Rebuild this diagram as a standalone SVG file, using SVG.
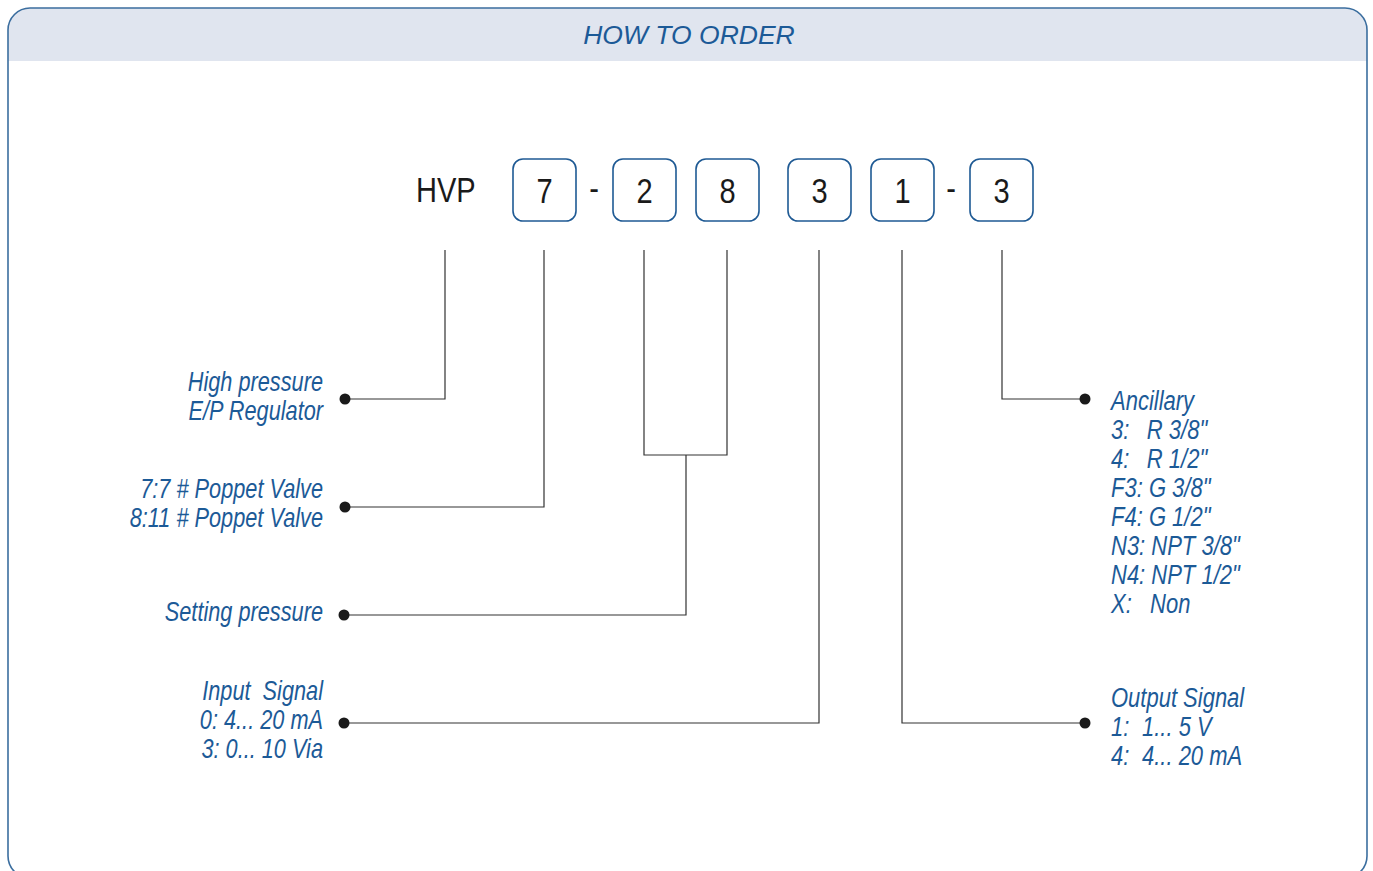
<svg xmlns="http://www.w3.org/2000/svg" width="1373" height="871" viewBox="0 0 1373 871">
<style>
.lbl{font-family:"Liberation Sans",Arial,sans-serif;font-style:italic;font-size:27px;fill:#1c5a97}
.r{text-anchor:end}
.title{font-family:"Liberation Sans",Arial,sans-serif;font-style:italic;font-size:26.5px;fill:#1c5a97;text-anchor:middle}
.code{font-family:"Liberation Sans",Arial,sans-serif;font-size:35px;fill:#1a1a1a}
.m{text-anchor:middle}
.box{fill:#fff;stroke:#1f5a94;stroke-width:1.6}
.ln{fill:none;stroke:#333;stroke-width:1.2}
.dot{fill:#1a1a1a}
.dash{fill:#1a1a1a}
</style>
<rect x="0" y="0" width="1373" height="871" fill="#fff"/>
<g id="frame">
<path d="M8,61 V30 A22,22 0 0 1 30,8 H1345 A22,22 0 0 1 1367,30 V61 Z" fill="#e0e5ef"/>
<rect x="8" y="8" width="1359" height="870" rx="22" ry="22" fill="none" stroke="#3b6e9f" stroke-width="1.6"/>
<text class="title" x="689" y="44">HOW TO ORDER</text>
</g>
<g id="code">
<text class="code" transform="translate(416,202) scale(0.83,1)">HVP</text>
<g id="box-7"><rect class="box" x="513" y="159" width="63" height="62" rx="10"/><text class="code m" transform="translate(544.5,203) scale(0.83,1)">7</text></g>
<text class="code m" transform="translate(594,200) scale(0.83,1)">-</text>
<g id="box-2"><rect class="box" x="613" y="159" width="63" height="62" rx="10"/><text class="code m" transform="translate(644.5,203) scale(0.83,1)">2</text></g>
<g id="box-8"><rect class="box" x="696" y="159" width="63" height="62" rx="10"/><text class="code m" transform="translate(727.5,203) scale(0.83,1)">8</text></g>
<g id="box-3a"><rect class="box" x="788" y="159" width="63" height="62" rx="10"/><text class="code m" transform="translate(819.5,203) scale(0.83,1)">3</text></g>
<g id="box-1"><rect class="box" x="871" y="159" width="63" height="62" rx="10"/><text class="code m" transform="translate(902.5,203) scale(0.83,1)">1</text></g>
<text class="code m" transform="translate(951,200) scale(0.83,1)">-</text>
<g id="box-3b"><rect class="box" x="970" y="159" width="63" height="62" rx="10"/><text class="code m" transform="translate(1001.5,203) scale(0.83,1)">3</text></g>
</g>
<g id="connectors">
<path class="ln" d="M445,250 V399 H345"/>
<path class="ln" d="M544,250 V507 H345"/>
<path class="ln" d="M644,250 V455 H727 V250 M686,455 V615 H344"/>
<path class="ln" d="M819,250 V723 H344"/>
<path class="ln" d="M902,250 V723 H1085"/>
<path class="ln" d="M1002,250 V399 H1085"/>
<circle class="dot" cx="345" cy="399" r="5.5"/>
<circle class="dot" cx="345" cy="507" r="5.5"/>
<circle class="dot" cx="344" cy="615" r="5.5"/>
<circle class="dot" cx="344" cy="723" r="5.5"/>
<circle class="dot" cx="1085" cy="723" r="5.5"/>
<circle class="dot" cx="1085" cy="399" r="5.5"/>
</g>
<g id="node-highpressure">
<text class="lbl r" transform="translate(323,391) scale(0.805,1)">High pressure</text>
<text class="lbl r" transform="translate(323,420) scale(0.805,1)">E/P Regulator</text>
</g>
<g id="node-poppet">
<text class="lbl r" transform="translate(323,498) scale(0.805,1)">7:7 # Poppet Valve</text>
<text class="lbl r" transform="translate(323,527) scale(0.805,1)">8:11 # Poppet Valve</text>
</g>
<g id="node-setting">
<text class="lbl r" transform="translate(323,621) scale(0.805,1)">Setting pressure</text>
</g>
<g id="node-input">
<text class="lbl r" transform="translate(323,700) scale(0.805,1)" xml:space="preserve">Input  Signal</text>
<text class="lbl r" transform="translate(323,729) scale(0.805,1)">0: 4... 20 mA</text>
<text class="lbl r" transform="translate(323,758) scale(0.805,1)">3: 0... 10 Via</text>
</g>
<g id="node-ancillary">
<text class="lbl" transform="translate(1111,410) scale(0.815,1)">Ancillary</text>
<text class="lbl" transform="translate(1111,439) scale(0.815,1)">3:<tspan x="44">R 3/8"</tspan></text>
<text class="lbl" transform="translate(1111,468) scale(0.815,1)">4:<tspan x="44">R 1/2"</tspan></text>
<text class="lbl" transform="translate(1111,497) scale(0.815,1)">F3: G 3/8"</text>
<text class="lbl" transform="translate(1111,526) scale(0.815,1)">F4: G 1/2"</text>
<text class="lbl" transform="translate(1111,555) scale(0.815,1)">N3: NPT 3/8"</text>
<text class="lbl" transform="translate(1111,584) scale(0.815,1)">N4: NPT 1/2"</text>
<text class="lbl" transform="translate(1111,613) scale(0.815,1)">X:<tspan x="48">Non</tspan></text>
</g>
<g id="node-output">
<text class="lbl" transform="translate(1111,707) scale(0.815,1)">Output Signal</text>
<text class="lbl" transform="translate(1111,736) scale(0.815,1)">1:<tspan x="38">1... 5 V</tspan></text>
<text class="lbl" transform="translate(1111,765) scale(0.815,1)">4:<tspan x="38">4... 20 mA</tspan></text>
</g>
</svg>
